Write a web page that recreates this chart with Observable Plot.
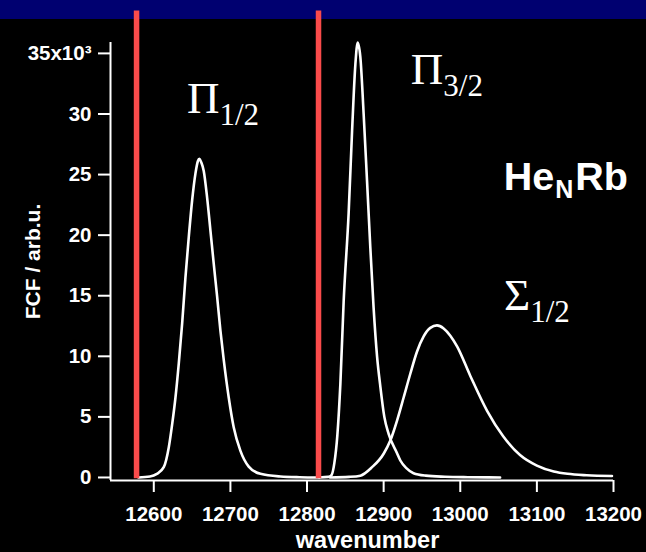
<!DOCTYPE html>
<html>
<head>
<meta charset="utf-8">
<script src="https://cdn.jsdelivr.net/npm/d3@7"></script>
<script src="https://cdn.jsdelivr.net/npm/@observablehq/plot@0.6"></script>
<style>
  html, body { margin: 0; padding: 0; background: #000; width: 646px; height: 552px; overflow: hidden; }
  #band { position: absolute; left: 0; top: 0; width: 646px; height: 19px; background: #000070; }
  #chart { position: absolute; left: 0; top: 0; width: 646px; height: 552px; }
  #chart svg { display: block; }
</style>
</head>
<body>
<div id="band"></div>
<div id="chart"></div>
<script>
// ---- data ----
const xTicks = [12600, 12700, 12800, 12900, 13000, 13100, 13200];
const yTicks = [0, 5, 10, 15, 20, 25, 30, 35];
const xDomain = [12543.5, 13200];
const yDomain = [-0.25, 35.9];

// Rb atomic D1 / D2 lines (red markers)
const atomicLines = [12577.5, 12815];
const atomicLineTop = 38.5;

// Pi 1/2 band
const pi12W = [12580, 12595, 12604, 12613, 12619.6, 12624, 12628.3, 12632.6, 12637, 12641.3, 12645.6, 12650.1, 12654.4, 12657.5, 12659.6, 12662, 12665.2, 12669.6, 12673.9, 12678.3, 12682.7, 12687, 12691.3, 12697.8, 12704.3, 12713.1, 12723.9, 12739.2, 12765.3, 12790, 12816];
const pi12V = [0, 0.08, 0.3, 0.85, 2.5, 4.4, 6.6, 9.4, 12.7, 16.5, 19.8, 22.9, 25.1, 26.1, 26.3, 26.0, 25.3, 23.1, 20.4, 17.6, 14.9, 12.1, 9.7, 6.6, 4.15, 2.2, 0.9, 0.3, 0.08, 0.02, 0];

// Pi 3/2 band
const pi32W = [12816, 12828, 12832, 12835.7, 12839.6, 12843.5, 12847.8, 12854.3, 12858.8, 12863.1, 12866.1, 12869.6, 12873.9, 12878.3, 12882.6, 12886.9, 12891.4, 12895.7, 12900.9, 12906.5, 12917.5, 12921.8, 12930, 12939, 12955, 12980, 13010, 13052];
const pi32V = [0, 0.05, 0.2, 1.2, 3.5, 7.7, 14.5, 21.8, 28.6, 34.1, 35.9, 34.7, 30.0, 24.5, 19.0, 14.0, 10.0, 7.5, 5.0, 3.6, 2.0, 1.4, 0.75, 0.35, 0.15, 0.06, 0.02, 0];

// Sigma 1/2 band
const sig12W = [12830, 12855, 12869.6, 12884.9, 12900, 12908.7, 12917.5, 12926.1, 12934.8, 12943.6, 12952.2, 12960.9, 12969.6, 12978.3, 12987, 12996, 13013, 13035, 13056, 13078, 13100, 13122, 13140, 13165, 13198];
const sig12V = [0, 0.05, 0.15, 0.85, 1.96, 3.05, 4.7, 6.6, 8.56, 10.4, 11.65, 12.35, 12.55, 12.3, 11.7, 10.8, 8.4, 5.5, 3.4, 1.85, 0.98, 0.5, 0.3, 0.18, 0.12];

// band labels (anchor = junction between symbol and subscript, on symbol baseline)
const bandMain = ["Π", "Π", "Σ"];
const bandSub = ["1/2", "3/2", "1/2"];
const bandW = [12685.7, 12977.9, 13091.3];
const bandV = [30.05, 32.5, 13.79];

// molecule label He_N Rb
const molPre = "He", molSub = "N", molPost = "Rb";
const molW = 13122.6, molV = 23.69;

const xLabel = "wavenumber";
const yLabel = "FCF / arb.u.";

// ---- build tables ----
const curves = [
  ...pi12W.map((w, i) => ({w, v: pi12V[i], band: "Pi1/2"})),
  ...pi32W.map((w, i) => ({w, v: pi32V[i], band: "Pi3/2"})),
  ...sig12W.map((w, i) => ({w, v: sig12V[i], band: "Sigma1/2"}))
];
const bandLabels = bandMain.map((m, i) => ({main: m, sub: bandSub[i], w: bandW[i], v: bandV[i]}));
const mol = [{pre: molPre, sub: molSub, post: molPost, w: molW, v: molV}];

const sans = "'Liberation Sans', Arial, Helvetica, sans-serif";
const serif = "'Liberation Serif', 'Times New Roman', Times, serif";

const chart = Plot.plot({
  width: 646,
  height: 552,
  marginLeft: 110,
  marginRight: 33,
  marginTop: 42,
  marginBottom: 72,
  x: {domain: xDomain},
  y: {domain: yDomain},
  style: {background: "transparent", color: "white", fontFamily: sans, fontWeight: "bold", fontSize: "20px", overflow: "visible"},
  marks: [
    Plot.ruleX([xDomain[0]], {y1: yDomain[0], y2: yDomain[1], stroke: "white", strokeWidth: 2}),
    Plot.ruleY([yDomain[0]], {x1: xDomain[0], x2: xDomain[1], stroke: "white", strokeWidth: 2}),
    Plot.axisX({ticks: xTicks, tickSize: 12, tickPadding: 14, tickFormat: d => String(d), label: null,
      color: "white", strokeWidth: 2, fontSize: 20.5, fontWeight: "bold", fontFamily: sans}),
    Plot.axisY({ticks: yTicks, tickSize: 12, tickPadding: 7, tickFormat: d => d === 35 ? "35x10³" : String(d), label: null,
      color: "white", strokeWidth: 2, fontSize: 20.5, fontWeight: "bold", fontFamily: sans}),
    Plot.line(curves, {x: "w", y: "v", z: "band", stroke: "white", strokeWidth: 2.6, curve: "monotone-x"}),
    Plot.ruleX(atomicLines, {y1: yDomain[0] + 0.15, y2: atomicLineTop, stroke: "#fa4b4b", strokeWidth: 5.5}),
    Plot.text(bandLabels, {x: "w", y: "v", text: "main", textAnchor: "end", lineAnchor: "bottom",
      fontFamily: serif, fontWeight: "normal", fontSize: 45, fill: "white"}),
    Plot.text(bandLabels, {x: "w", y: "v", text: "sub", textAnchor: "start", lineAnchor: "bottom", dy: 12,
      fontFamily: serif, fontWeight: "normal", fontSize: 31, fill: "white"}),
    Plot.text(mol, {x: "w", y: "v", text: "pre", textAnchor: "end", lineAnchor: "bottom",
      fontFamily: sans, fontWeight: "bold", fontSize: 39.5, fill: "white"}),
    Plot.text(mol, {x: "w", y: "v", text: "sub", textAnchor: "start", lineAnchor: "bottom", dy: 8, dx: 1,
      fontFamily: sans, fontWeight: "bold", fontSize: 25, fill: "white"}),
    Plot.text(mol, {x: "w", y: "v", text: "post", textAnchor: "start", lineAnchor: "bottom", dx: 21,
      fontFamily: sans, fontWeight: "bold", fontSize: 39.5, fill: "white"}),
    Plot.text([xLabel], {frameAnchor: "bottom", dx: 5.5, dy: 67, textAnchor: "middle", lineAnchor: "bottom",
      fontFamily: sans, fontWeight: "bold", fontSize: 23.5, fill: "white"}),
    Plot.text([yLabel], {frameAnchor: "left", rotate: -90, dx: -77, textAnchor: "middle", lineAnchor: "middle",
      fontFamily: sans, fontWeight: "bold", fontSize: 21, fill: "white"})
  ]
});
document.getElementById("chart").appendChild(chart);
</script>
</body>
</html>
